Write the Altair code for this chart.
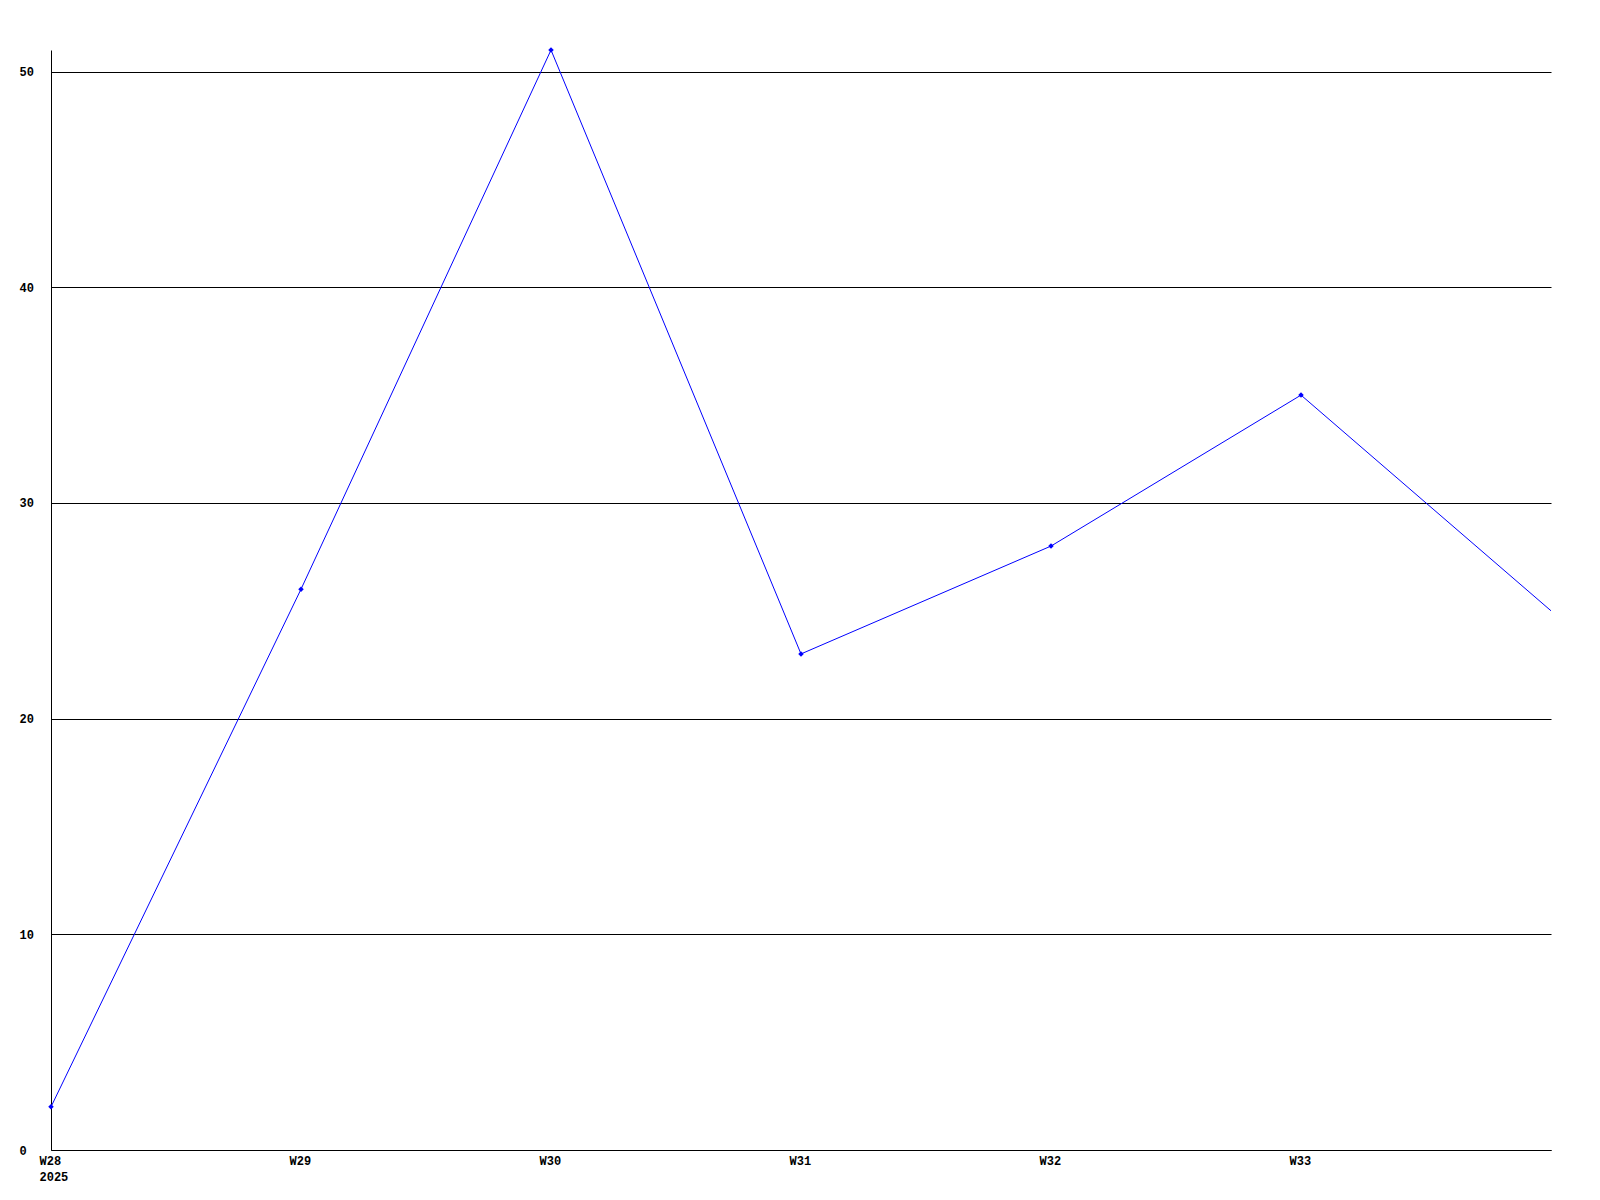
import altair as alt
import pandas as pd

weeks = [28, 29, 30, 31, 32, 33, 34]
counts = [2, 26, 51, 23, 28, 35, 25]
tick_weeks = [28, 29, 30, 31, 32, 33]
y_ticks = [0, 10, 20, 30, 40, 50]

df = pd.DataFrame({"week": weeks, "count": counts})

FONT = "Liberation Mono"

x = alt.X(
    "week:Q",
    scale=alt.Scale(domain=[28, 34], nice=False, zero=False),
    axis=alt.Axis(
        values=tick_weeks,
        title=None,
        grid=False,
        ticks=True,
        tickSize=0,
        labelAlign="left",
        labelBaseline="top",
        labelOffset=-12,
        labelPadding=5,
        labelLineHeight=16,
        labelExpr="datum.value == 28 ? ['W28', '2025'] : 'W' + datum.value",
        labelFont=FONT,
        labelFontSize=12,
        labelFontWeight="bold",
        labelColor="black",
        domainColor="black",
        labelFlush=False,
        labelOverlap=False,
    ),
)
y = alt.Y(
    "count:Q",
    scale=alt.Scale(domain=[0, 51], nice=False),
    axis=alt.Axis(
        values=y_ticks,
        title=None,
        grid=True,
        gridColor="black",
        gridOpacity=1,
        gridWidth=1,
        ticks=True,
        tickSize=0,
        labelAlign="left",
        labelBaseline="middle",
        labelPadding=32,
        labelFont=FONT,
        labelFontSize=12,
        labelFontWeight="bold",
        labelColor="black",
        domainColor="black",
        labelFlush=False,
        labelOverlap=False,
    ),
)

base = alt.Chart(df)
line = base.mark_line(color="#0000ff", strokeWidth=1).encode(x=x, y=y)
pts = base.mark_point(shape="diamond", filled=True, color="#0000ff", size=30, opacity=1).transform_filter(
    "datum.week < 34"
).encode(x=x, y=y)

chart = (
    alt.layer(line, pts)
    .properties(
        width=1500,
        height=1100,
        padding={"left": 43, "top": 42, "right": 30, "bottom": 40},
        autosize="none",
        background="white",
    )
    .configure_view(stroke=None)
)

chart.save("out.html", embed_options={"renderer": "svg", "actions": False})
